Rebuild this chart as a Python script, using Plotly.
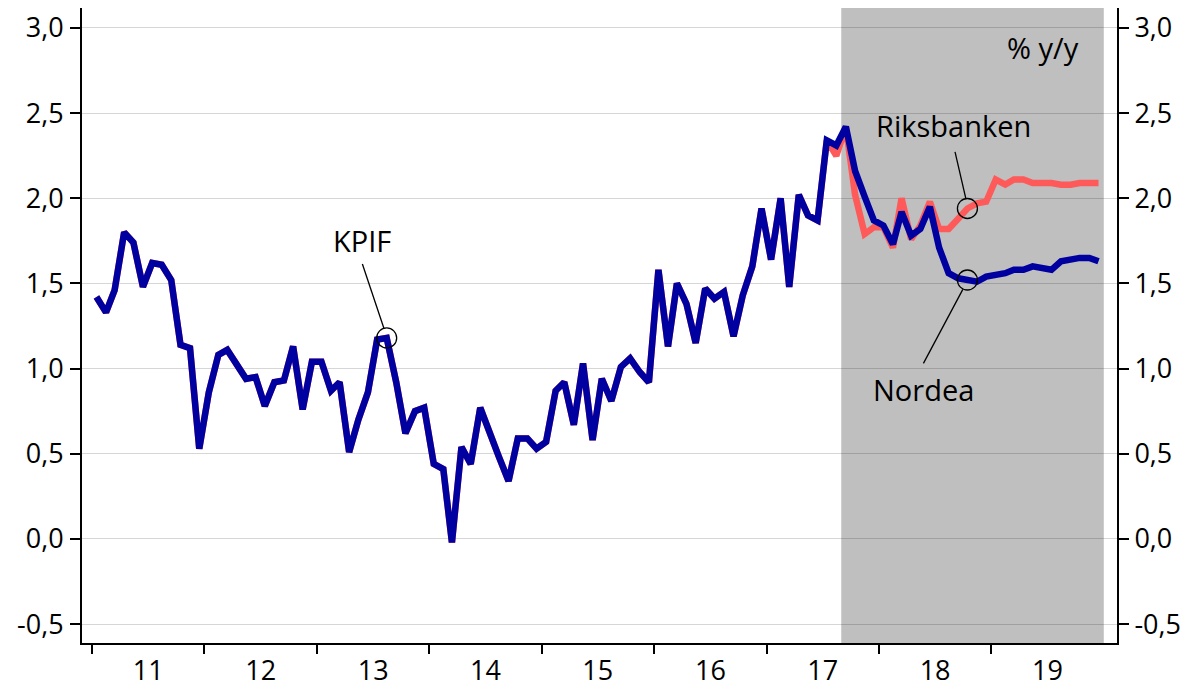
import pandas as pd
import plotly.graph_objects as go

# ---- data (monthly, % y/y) ----
months = pd.date_range("2011-01-01", periods=108, freq="MS") + pd.Timedelta(days=14)

nordea = [
    1.42, 1.33, 1.46, 1.80, 1.74, 1.48, 1.62, 1.61, 1.52, 1.14, 1.12, 0.53,   # 2011
    0.86, 1.08, 1.11, 1.02, 0.94, 0.95, 0.78, 0.92, 0.93, 1.13, 0.76, 1.04,   # 2012
    1.04, 0.87, 0.92, 0.51, 0.70, 0.86, 1.17, 1.18, 0.92, 0.62, 0.75, 0.77,   # 2013
    0.44, 0.41, -0.02, 0.54, 0.44, 0.77, 0.62, 0.48, 0.34, 0.59, 0.59, 0.53,  # 2014
    0.57, 0.87, 0.92, 0.67, 1.03, 0.58, 0.94, 0.81, 1.01, 1.06, 0.98, 0.92,   # 2015
    1.58, 1.13, 1.50, 1.38, 1.15, 1.47, 1.41, 1.45, 1.19, 1.43, 1.60, 1.94,   # 2016
    1.64, 2.00, 1.48, 2.02, 1.90, 1.87, 2.34, 2.31, 2.42, 2.16, 2.01, 1.87,   # 2017
    1.84, 1.73, 1.92, 1.78, 1.82, 1.95, 1.71, 1.56, 1.53, 1.52, 1.51, 1.54,   # 2018
    1.55, 1.56, 1.58, 1.58, 1.60, 1.59, 1.58, 1.63, 1.64, 1.65, 1.65, 1.63,   # 2019
]

riksbanken = nordea[:79] + [
    2.25, 2.42, 2.02, 1.79, 1.83,                                             # Aug-Dec 2017
    1.83, 1.71, 2.00, 1.76, 1.84, 1.98, 1.82, 1.82, 1.88, 1.94, 1.97, 1.98,   # 2018
    2.11, 2.08, 2.11, 2.11, 2.09, 2.09, 2.09, 2.08, 2.08, 2.09, 2.09, 2.09,   # 2019
]

year_ticks = [f"{y}-01-01" for y in range(2011, 2020)]
year_label_pos = [f"{y}-07-02" for y in range(2011, 2020)]
year_labels = [f"{y % 100:02d}" for y in range(2011, 2020)]
y_ticks = [-0.5, 0.0, 0.5, 1.0, 1.5, 2.0, 2.5, 3.0]
y_labels = ["-0,5", "0,0", "0,5", "1,0", "1,5", "2,0", "2,5", "3,0"]

BLUE = "#0000A0"
RED = "#FF5A5A"
FONT = "Open Sans"
FS = 27
AFS = 29

fig = go.Figure()
fig.add_trace(go.Scatter(x=months, y=riksbanken, mode="lines",
                         line=dict(color=RED, width=6.5), name="Riksbanken",
                         showlegend=False))
fig.add_trace(go.Scatter(x=months, y=nordea, mode="lines",
                         line=dict(color=BLUE, width=6.5), name="Nordea",
                         showlegend=False))
# invisible trace for the right axis
fig.add_trace(go.Scatter(x=[months[0]], y=[nordea[0]], yaxis="y2", mode="lines",
                         line=dict(width=0), hoverinfo="skip", showlegend=False))

# forecast shading
fig.add_shape(type="rect", xref="x", yref="paper", x0="2017-08-31", x1="2020-01-01",
              y0=0, y1=1, fillcolor="#BFBFBF", line=dict(width=0), layer="below")

# annotation circles and leader lines
def circle(xc, yc):
    fig.add_shape(type="circle", xref="x", yref="y", xsizemode="pixel", ysizemode="pixel",
                  xanchor=xc, yanchor=yc, x0=-10, x1=10, y0=-10, y1=10,
                  line=dict(color="black", width=1.3), fillcolor="rgba(0,0,0,0)")

def leader(xc, yc, dx0, dy0, dx1, dy1):
    fig.add_shape(type="line", xref="x", yref="y", xsizemode="pixel", ysizemode="pixel",
                  xanchor=xc, yanchor=yc, x0=dx0, y0=dy0, x1=dx1, y1=dy1,
                  line=dict(color="black", width=1.3))

circle(months[31], nordea[31])
leader(months[31], nordea[31], -24.3, 74, -2.7, 9.5)
circle(months[93], riksbanken[93])
leader(months[93], riksbanken[93], -12.4, 56.6, -1.7, 10.3)
circle(months[93], nordea[93])
leader(months[93], nordea[93], -4.6, -9.3, -44, -83.3)

def label(text, x, y):
    fig.add_annotation(text=text, x=x, y=y, xref="x", yref="y", showarrow=False,
                       font=dict(family=FONT, size=AFS, color="black"),
                       xanchor="center", yanchor="middle")

label("KPIF", "2013-05-27", 1.753)
label("Riksbanken", "2018-09-01", 2.425)
label("% y/y", "2019-06-18", 2.883)
label("Nordea", "2018-05-24", 0.880)

# the page body adds an 8px offset; size the figure so the plot area lands as in the reference
yrange = [-0.611, 3.117]
fig.update_layout(
    width=1180, height=679,
    margin=dict(l=74, r=71, t=0, b=44, autoexpand=False),
    paper_bgcolor="white", plot_bgcolor="white",
    font=dict(family=FONT, size=FS, color="black"),
    xaxis=dict(
        range=["2010-11-29", "2020-02-13"], automargin=False,
        tickvals=year_label_pos, ticktext=year_labels,
        ticks="", showgrid=False, zeroline=False,
        showline=True, linecolor="black", linewidth=2,
        ticklabelstandoff=3,
        minor=dict(tickvals=year_ticks, ticks="outside", ticklen=9,
                   tickwidth=2, tickcolor="black", showgrid=False),
        tickfont=dict(family=FONT, size=FS),
    ),
    yaxis=dict(
        range=yrange, tickvals=y_ticks, ticktext=y_labels, automargin=False,
        ticks="outside", ticklen=10, tickwidth=1.5, tickcolor="black",
        showline=True, linecolor="black", linewidth=2,
        showgrid=True, gridcolor="rgba(0,0,0,0.16)", gridwidth=1,
        zeroline=False, ticklabelstandoff=1,
        tickfont=dict(family=FONT, size=FS),
    ),
    yaxis2=dict(
        range=yrange, tickvals=y_ticks, ticktext=y_labels, automargin=False,
        overlaying="y", side="right",
        ticks="outside", ticklen=10, tickwidth=1.5, tickcolor="black",
        showline=True, linecolor="black", linewidth=2,
        showgrid=False, zeroline=False, ticklabelstandoff=0,
        tickfont=dict(family=FONT, size=FS),
    ),
)

fig.write_html("out.html")
